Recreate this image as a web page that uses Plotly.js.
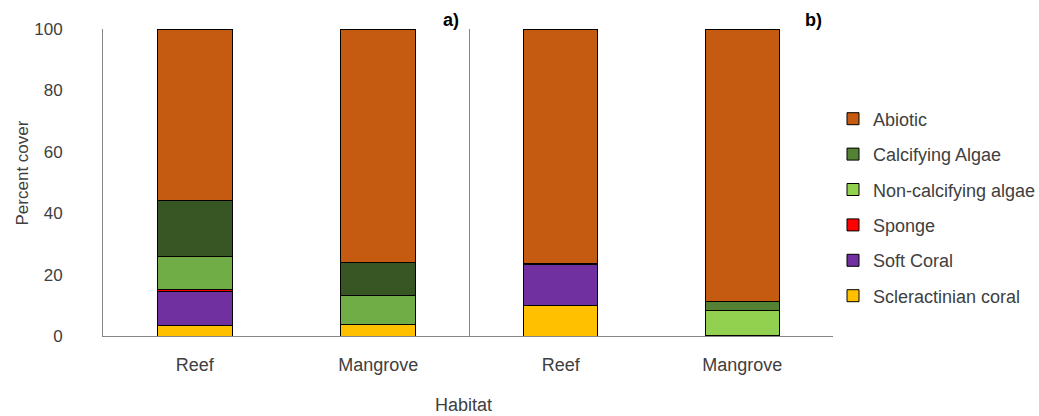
<!DOCTYPE html>
<html>
<head>
<meta charset="utf-8">
<script src="https://cdn.plot.ly/plotly-3.0.1.min.js"></script>
<style>html,body{margin:0;padding:0;background:#fff;}#chart{width:1039px;height:416px;}</style>
</head>
<body>
<div id="chart"></div>
<script>
const habitats = ["Reef", "Mangrove"];
const seriesNames = ["Scleractinian coral", "Soft Coral", "Sponge", "Non-calcifying algae", "Calcifying Algae", "Abiotic"];
// panel a) values per series [Reef, Mangrove]
const scleractinianA = [3.4, 3.8];
const softCoralA = [11.0, 0];
const spongeA = [0.6, 0];
const nonCalcA = [10.8, 9.3];
const calcA = [18.5, 10.8];
const abioticA = [55.7, 76.1];
// panel b) values per series [Reef, Mangrove]
const scleractinianB = [9.9, 0.3];
const softCoralB = [13.4, 0];
const spongeB = [0.3, 0];
const nonCalcB = [0, 8.1];
const calcB = [0, 2.9];
const abioticB = [76.4, 88.7];

const coloursA = ["#FFC000", "#7030A0", "#FF0000", "#70AD47", "#375623", "#C55A11"];
const coloursB = ["#FFC000", "#7030A0", "#FF0000", "#92D050", "#548235", "#C55A11"];
const valuesA = [scleractinianA, softCoralA, spongeA, nonCalcA, calcA, abioticA];
const valuesB = [scleractinianB, softCoralB, spongeB, nonCalcB, calcB, abioticB];

const FONT = "Liberation Sans, Arial, sans-serif";
const traces = [];
seriesNames.forEach((name, i) => {
  traces.push({
    type: "bar", name: name, x: habitats, y: valuesA[i], xaxis: "x", yaxis: "y",
    marker: {color: coloursA[i], line: {color: "#000", width: 1}},
    width: 0.41, showlegend: false, legendgroup: "g" + i, legendrank: 100 - i, hoverinfo: "y+name"
  });
});
seriesNames.forEach((name, i) => {
  traces.push({
    type: "bar", name: name, x: habitats, y: valuesB[i], xaxis: "x2", yaxis: "y2",
    marker: {color: coloursB[i], line: {color: "#000", width: 1}},
    width: 0.41, showlegend: true, legendgroup: "g" + i, legendrank: 100 - i, hoverinfo: "y+name"
  });
});

const axisCommon = {
  showgrid: false, zeroline: false, showline: true, linecolor: "#868686", linewidth: 1,
  tickfont: {family: FONT, size: 18, color: "#404040"}, fixedrange: true, automargin: false
};
const layout = {
  width: 1039, height: 416,
  margin: {l: 103, r: 204, t: 29, b: 80},
  paper_bgcolor: "#fff", plot_bgcolor: "#fff",
  barmode: "stack",
  font: {family: FONT, color: "#404040"},
  xaxis: Object.assign({}, axisCommon, {domain: [0, 0.5027], anchor: "y", range: [-0.5, 1.5], ticks: "outside", ticklen: 12, tickcolor: "rgba(0,0,0,0)"}),
  xaxis2: Object.assign({}, axisCommon, {domain: [0.5027, 1], anchor: "y2", range: [-0.5, 1.5], ticks: "outside", ticklen: 12, tickcolor: "rgba(0,0,0,0)"}),
  yaxis: Object.assign({}, axisCommon, {anchor: "x", range: [0, 100], tickvals: [0, 20, 40, 60, 80, 100], ticks: "outside", ticklen: 36, tickcolor: "rgba(0,0,0,0)", tickfont: {family: FONT, size: 17, color: "#404040"}}),
  yaxis2: Object.assign({}, axisCommon, {anchor: "x2", range: [0, 100], showticklabels: false, ticks: ""}),
  legend: {
    xref: "container", yref: "container",
    x: 833 / 1039, xanchor: "left", y: (416 - 204.5) / 416, yanchor: "middle",
    font: {family: FONT, size: 18, color: "#404040"},
    traceorder: "grouped", tracegroupgap: 9, itemwidth: 30,
    bgcolor: "rgba(0,0,0,0)"
  },
  annotations: [
    {text: "Percent cover", textangle: -90, xref: "paper", yref: "paper", x: -0.1107, y: 0.53, xanchor: "center", yanchor: "middle", showarrow: false, font: {family: FONT, size: 17, color: "#404040"}},
    {text: "Habitat", xref: "paper", yref: "paper", x: 0.494, y: -0.225, xanchor: "center", yanchor: "middle", showarrow: false, font: {family: FONT, size: 18, color: "#404040"}},
    {text: "<b>a)</b>", xref: "paper", yref: "paper", x: 0.4768, y: 1.03, xanchor: "center", yanchor: "middle", showarrow: false, font: {family: FONT, size: 18, color: "#000"}},
    {text: "<b>b)</b>", xref: "paper", yref: "paper", x: 0.9727, y: 1.03, xanchor: "center", yanchor: "middle", showarrow: false, font: {family: FONT, size: 18, color: "#000"}}
  ]
};
Plotly.newPlot("chart", traces, layout, {displayModeBar: false, staticPlot: true});
</script>
</body>
</html>
